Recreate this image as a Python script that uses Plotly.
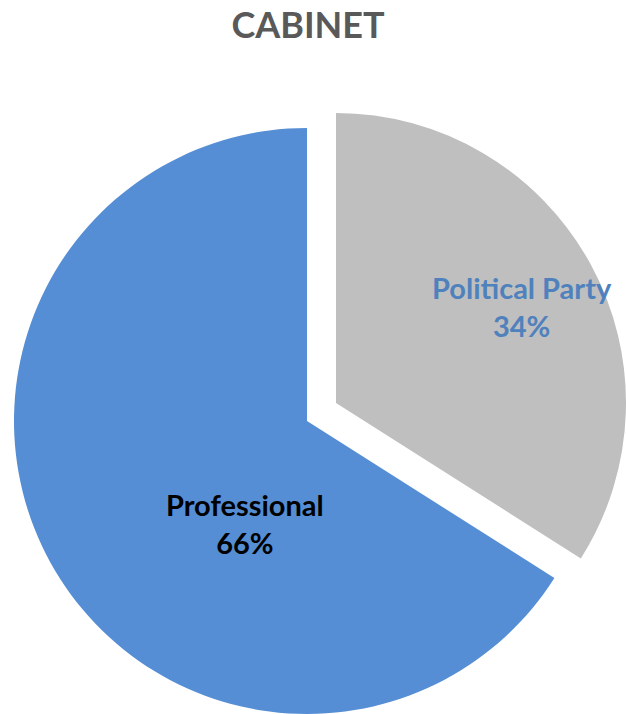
import plotly.graph_objects as go

# Data
labels = ["Political Party", "Professional"]
values = [34, 66]
colors = ["#BFBFBF", "#558ED5"]
label_colors = ["#4F81BD", "#000000"]
title_text = "CABINET"

W, H = 626, 714
total = sum(values)
transparent = "rgba(0,0,0,0)"

fig = go.Figure()

# Professional slice (not exploded)
fig.add_trace(go.Pie(
    labels=labels, values=values, sort=False, direction="clockwise", rotation=0,
    marker=dict(colors=[transparent, colors[1]], line=dict(width=0)),
    textinfo="none", hoverinfo="label+percent", showlegend=False,
    domain=dict(x=[12 / W, 602 / W], y=[0, 586 / H]),
))

# Political Party slice (exploded outward)
fig.add_trace(go.Pie(
    labels=labels, values=values, sort=False, direction="clockwise", rotation=0,
    marker=dict(colors=[colors[0], transparent], line=dict(width=0)),
    textinfo="none", hoverinfo="label+percent", showlegend=False,
    domain=dict(x=[46 / W, 1.0], y=[(311 - 300) / H, (311 + 300) / H]),
))

label_pos = [(522, 306), (245, 523)]
annotations = []
for lab, val, col, (px, py) in zip(labels, values, label_colors, label_pos):
    pct = round(100 * val / total)
    annotations.append(dict(
        text=f"<b>{lab}</b><br><b>{pct}%</b>",
        x=px / W, y=1 - py / H, xref="paper", yref="paper",
        xanchor="center", yanchor="middle", showarrow=False,
        font=dict(family="Lato", size=29, color=col), align="center",
    ))

fig.update_layout(
    width=W, height=H, autosize=False,
    margin=dict(l=0, r=0, t=0, b=0),
    paper_bgcolor="white", plot_bgcolor="white",
    showlegend=False,
    title=dict(text=f"<b>{title_text}</b>", x=308 / W, xanchor="center",
               y=1 - 25 / H, yanchor="middle", yref="container",
               font=dict(family="Lato", size=36, color="#595959")),
    annotations=annotations,
)

fig.write_html("out.html")
